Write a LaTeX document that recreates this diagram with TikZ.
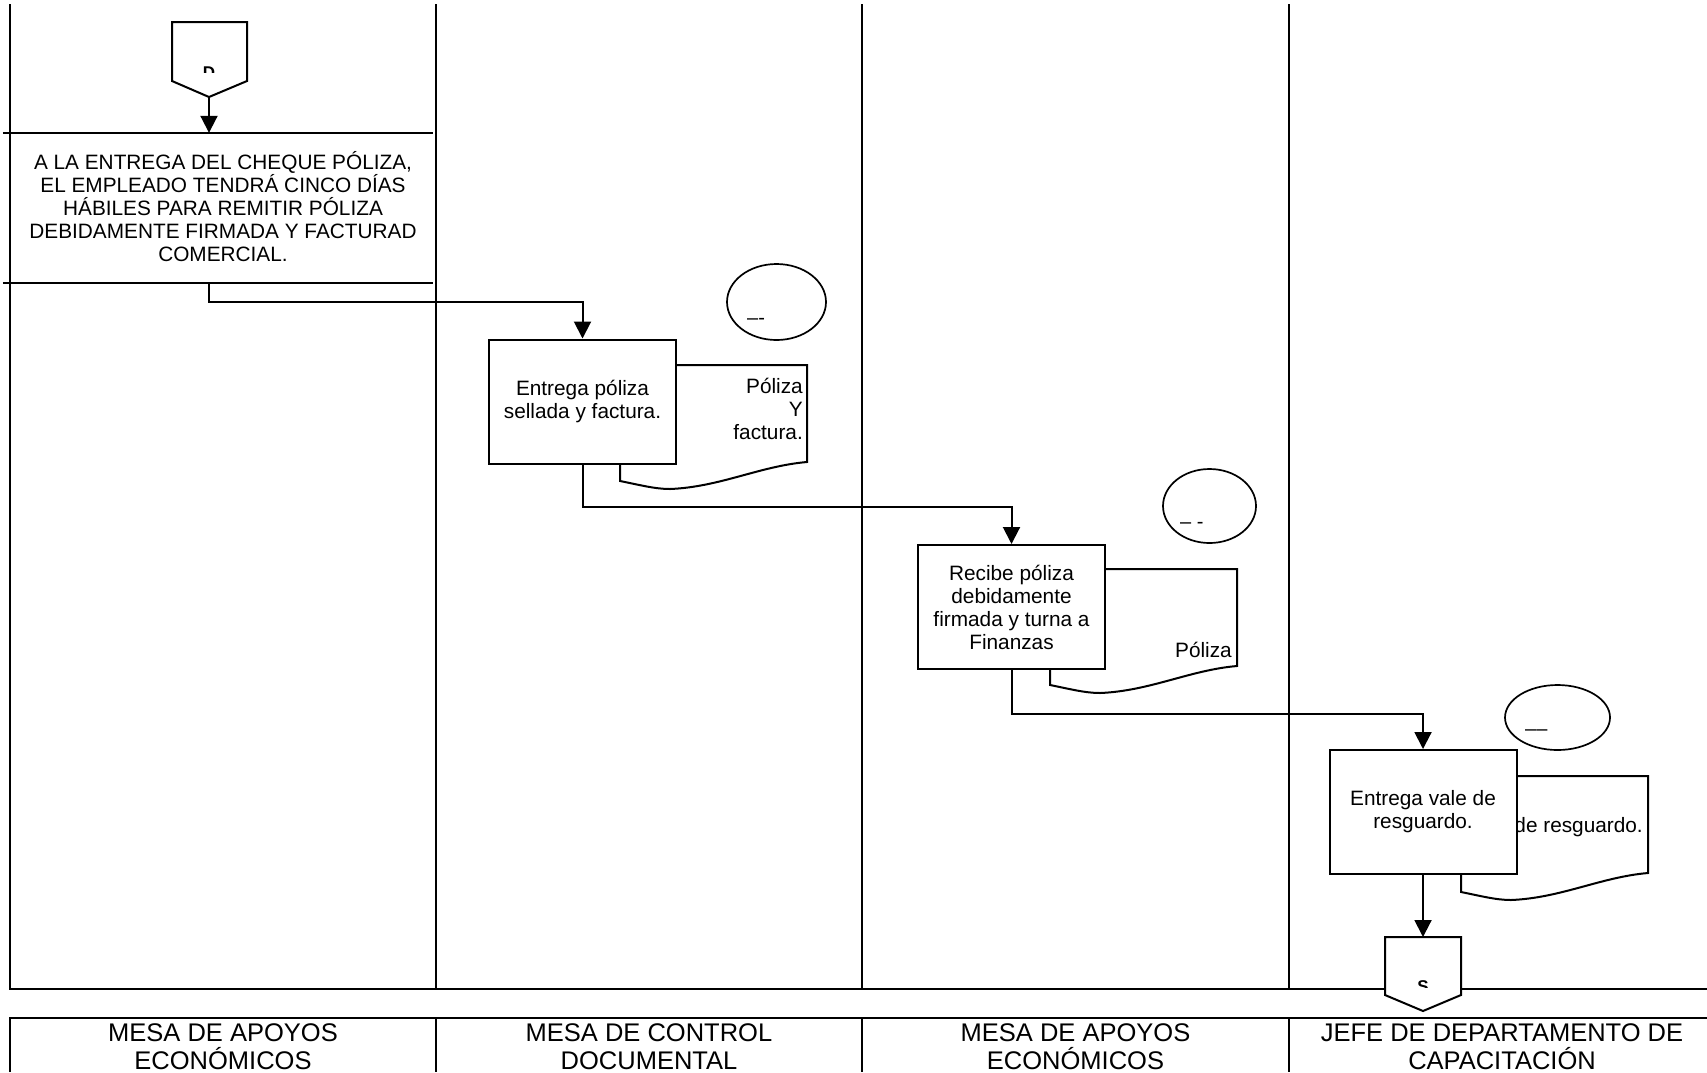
\documentclass[tikz,border=0pt]{standalone}
\usepackage{fontspec}
\setmainfont{Liberation Sans}
\usetikzlibrary{arrows.meta,shapes.geometric}
\newcommand\fsbox{\fontsize{20.8}{23}\selectfont}
\newcommand\fsfoot{\fontsize{25.5}{28}\selectfont}
\begin{document}
\begin{tikzpicture}[x=1pt,y=-1pt,
  ln/.style={line width=2pt},
  arr/.style={line width=2pt,-{Triangle[length=17pt,width=17pt]}},
  proc/.style={draw,line width=2pt,fill=white,minimum width=187pt,minimum height=124pt,align=center,inner sep=2pt,font=\fsbox},
  oval/.style={draw,ellipse,line width=1.7pt,inner sep=0pt},
  txt/.style={font=\fsbox,inner sep=0pt},
  foot/.style={font=\fsfoot,align=center,inner sep=0pt,anchor=north},
  docu/.pic={\draw[line width=2pt,fill=white] (0,0) -- (187,0) -- (187,97)
     .. controls (140,101) and (100,122) .. (50,124)
     .. controls (35,124) and (20,120) .. (0,116) -- cycle;}
]
\useasboundingbox (0,0) rectangle (1707,1072);

% swimlanes
\draw[ln] (10,4) -- (10,989) -- (1707,989);
\draw[ln] (436,4) -- (436,989);
\draw[ln] (862,4) -- (862,989);
\draw[ln] (1289,4) -- (1289,989);

% footer
\draw[ln] (10,1072) -- (10,1018) -- (1707,1018);
\draw[ln] (436,1018) -- (436,1072);
\draw[ln] (862,1018) -- (862,1072);
\draw[ln] (1289,1018) -- (1289,1072);
\node[foot] (f1) at (223,1023) {MESA DE APOYOS\\ECONÓMICOS};
\node[foot] (f2) at (649,1023) {MESA DE CONTROL\\DOCUMENTAL};
\node[foot] (f3) at (1075.5,1023) {MESA DE APOYOS\\ECONÓMICOS};
\node[foot] (f4) at (1502,1023) {JEFE DE DEPARTAMENTO DE\\CAPACITACIÓN};

% off-page connector D
\draw[ln,fill=white] (172,22) -- (247,22) -- (247,81) -- (209,97) -- (172,81) -- cycle;
\coordinate (Dtip) at (209,97);
\begin{scope}
  \clip (172,22) rectangle (247,72);
  \node[font=\bfseries\fontsize{17}{20}\selectfont,anchor=base,inner sep=0pt] (dl) at (209,78) {D};
\end{scope}

% top box
\node[minimum width=430pt,minimum height=150pt,inner sep=0pt] (t1) at (218,208) {};
\draw[ln] (t1.north west) -- (t1.north east);
\draw[ln] (t1.south west) -- (t1.south east);
\node[txt,align=center] (t1txt) at (223,207) {A LA ENTREGA DEL CHEQUE PÓLIZA,\\EL EMPLEADO TENDRÁ CINCO DÍAS\\HÁBILES PARA REMITIR PÓLIZA\\DEBIDAMENTE FIRMADA Y FACTURAD\\COMERCIAL.};
\draw[arr] (Dtip) -- (Dtip |- t1.north);

% documents
\pic at (620,365) {docu};
\pic at (1050,569) {docu};
\pic at (1461,776) {docu};
\node[txt,align=right,anchor=east] (d1) at (803,409) {Póliza\\Y\\factura.};
\node[txt,anchor=east] (d2) at (1232,650) {Póliza};
\node[txt,anchor=east] (d3) at (1643,827) {Vale de resguardo.};

% process boxes
\node[proc] (b1) at (582.5,401.5) {Entrega póliza\\sellada y factura.};
\node[proc] (b2) at (1011.5,607) {Recibe póliza\\debidamente\\firmada y turna a\\Finanzas};
\node[proc] (b3) at (1423,812) {Entrega vale de\\resguardo.};

% ovals
\node[oval,minimum width=99pt,minimum height=76pt] (o1) at (776.5,302) {};
\node[oval,minimum width=93pt,minimum height=74pt] (o2) at (1209.5,506) {};
\node[oval,minimum width=105pt,minimum height=65pt] (o3) at (1557.5,717.5) {};
\node[txt,anchor=base west,font=\fontsize{20}{20}\selectfont] (o1t) at (747,324) {–-};
\node[txt,anchor=base west,font=\fontsize{20}{20}\selectfont] (o2t) at (1180,528) {– -};
\node[txt,anchor=base west,font=\fontsize{20}{20}\selectfont] (o3t) at (1525,735) {––};

% off-page connector S
\draw[ln,fill=white] (1385,937) -- (1461,937) -- (1461,995) -- (1423,1011) -- (1385,995) -- cycle;
\coordinate (Stop) at (1423,937);
\begin{scope}
  \clip (1385,937) rectangle (1461,987);
  \node[font=\bfseries\fontsize{17}{20}\selectfont,anchor=base,inner sep=0pt] (sl) at (1423,992) {S};
\end{scope}

% connectors
\draw[arr] (t1.south -| Dtip) -- ++(0,19) -| (b1.north);
\draw[arr] (b1.south) -- ++(0,42) -| (b2.north);
\draw[arr] (b2.south) -- ++(0,44) -| (b3.north);
\draw[arr] (b3.south) -- (Stop);
\end{tikzpicture}
\end{document}
